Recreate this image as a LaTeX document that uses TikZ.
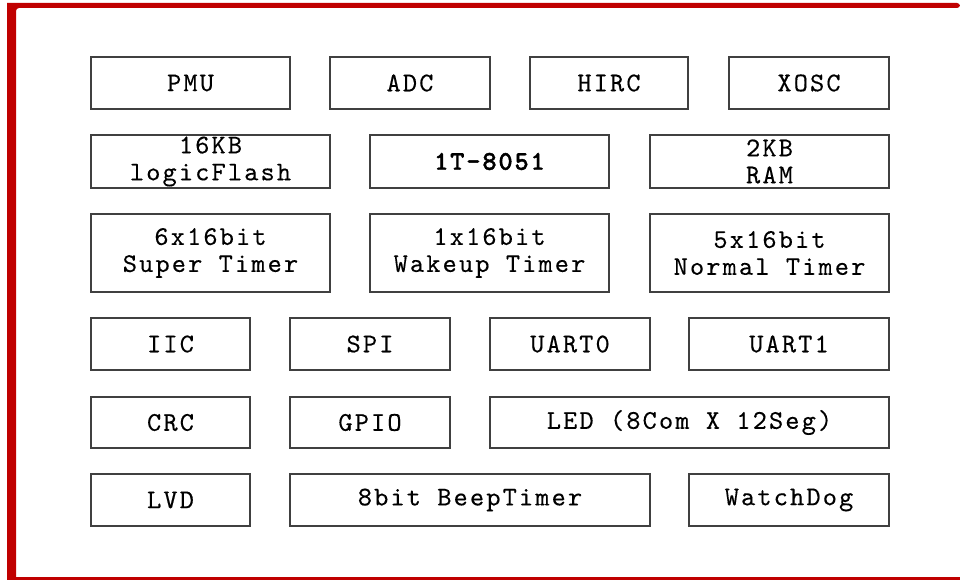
\documentclass[tikz,border=0pt]{standalone}
\usepackage{fontspec}
\newfontfamily\blkfont[Extension=.otf, LetterSpace=8, FakeBold=0.3]{lmmono10-regular}
\newfontfamily\blkfontb[Extension=.otf, LetterSpace=7, FakeBold=1.5]{lmmonolt10-bold}
\definecolor{bordred}{HTML}{C00000}
\definecolor{boxline}{HTML}{404040}
\tikzset{
  blk/.style={draw=boxline, line width=1.2pt, rectangle, inner sep=0pt,
    align=center, font=\blkfont\fontsize{27}{27}\selectfont, text=black},
}
\begin{document}
\begin{tikzpicture}[x=1pt, y=-1pt]
\useasboundingbox (0,0) rectangle (960,580);
% red frame
\fill[bordred] (7,3) [rounded corners=3pt] -- (7,580) -- (16,580) -- (16,8) -- (960,8) -- (960,3) [sharp corners] -- cycle;
\fill[bordred] (7,577) rectangle (960,580);
% row 1
\node[blk, minimum width=199pt, minimum height=52pt] (pmu) at (190.5,83) {PMU};
\node[blk, minimum width=160pt, minimum height=52pt] (adc) at (410,83) {ADC};
\node[blk, minimum width=158pt, minimum height=52pt] (hirc) at (609,83) {HIRC};
\node[blk, minimum width=160pt, minimum height=52pt] (xosc) at (809,83) {XOSC};
% row 2
\node[blk, minimum width=239pt, minimum height=53pt] (flash) at (210.5,161.5) {16KB\\logicFlash};
\node[blk, minimum width=239pt, minimum height=53pt, font=\blkfontb\fontsize{27}{27}\selectfont] (cpu) at (489.5,161.5) {1T-8051};
\node[blk, minimum width=239pt, minimum height=53pt] (ram) at (769.5,161.5) {2KB\\RAM};
% row 3
\node[blk, minimum width=239pt, minimum height=78pt] (stimer) at (210.5,253) {6x16bit\\Super Timer};
\node[blk, minimum width=239pt, minimum height=78pt] (wtimer) at (489.5,253) {1x16bit\\Wakeup Timer};
\node[blk, minimum width=239pt, minimum height=78pt] (ntimer) at (769.5,253) {5x16bit\\Normal Timer};
% row 4
\node[blk, minimum width=159pt, minimum height=52pt] (iic) at (170.5,344) {IIC};
\node[blk, minimum width=160pt, minimum height=52pt] (spi) at (370,344) {SPI};
\node[blk, minimum width=160pt, minimum height=52pt] (uart0) at (570,344) {UART0};
\node[blk, minimum width=200pt, minimum height=52pt] (uart1) at (789,344) {UART1};
% row 5
\node[blk, minimum width=159pt, minimum height=51pt] (crc) at (170.5,422.5) {CRC};
\node[blk, minimum width=160pt, minimum height=51pt] (gpio) at (370,422.5) {GPIO};
\node[blk, minimum width=399pt, minimum height=51pt] (led) at (689.5,422.5) {LED (8Com X 12Seg)};
% row 6
\node[blk, minimum width=159pt, minimum height=52pt] (lvd) at (170.5,500) {LVD};
\node[blk, minimum width=360pt, minimum height=52pt] (beep) at (470,500) {8bit BeepTimer};
\node[blk, minimum width=200pt, minimum height=52pt] (wdog) at (789,500) {WatchDog};
\end{tikzpicture}
\end{document}
